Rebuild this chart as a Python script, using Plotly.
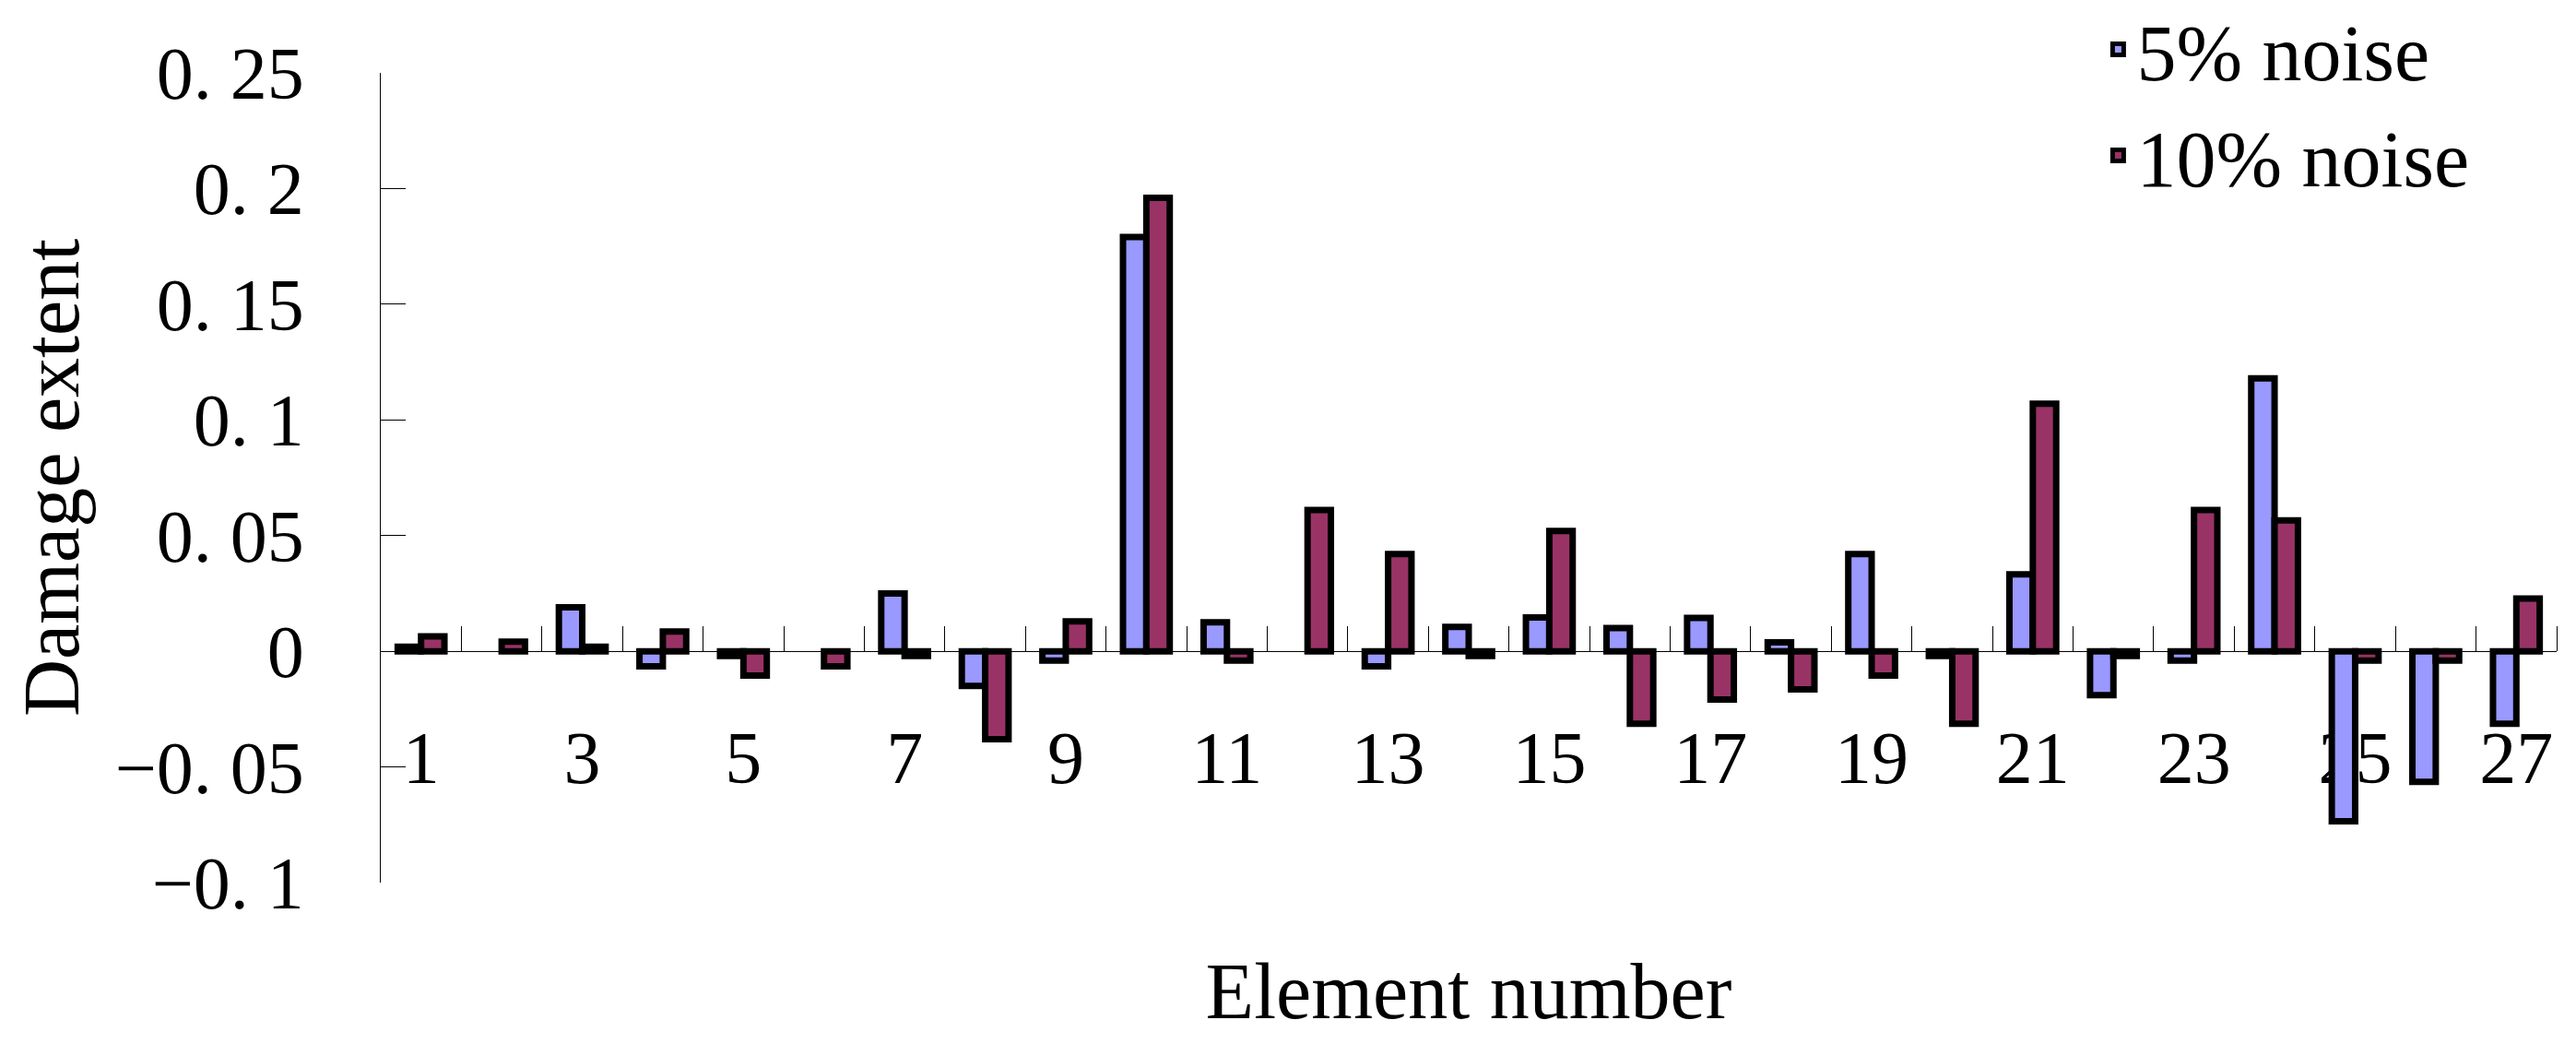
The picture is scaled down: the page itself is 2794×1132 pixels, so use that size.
import plotly.graph_objects as go

# ---- data ----
elements = [1, 2, 3, 4, 5, 6, 7, 8, 9, 10, 11, 12, 13, 14,
            15, 16, 17, 18, 19, 20, 21, 22, 23, 24, 25, 26, 27]

noise_5 = [0.002, None, 0.019, -0.0065, -0.002, None, 0.025, -0.015, -0.004,
           0.179, 0.0125, None, -0.0065, 0.0105, 0.0146, 0.010, 0.0144,
           0.0038, 0.042, -0.002, 0.0332, -0.019, -0.004, 0.118, -0.0735,
           -0.0564, -0.0313]

noise_10 = [0.0064, 0.0041, 0.002, 0.0085, -0.0105, -0.0065, -0.002, -0.038,
            0.0129, 0.196, -0.004, 0.061, 0.042, -0.002, 0.052, -0.0313,
            -0.0209, -0.0165, -0.0105, -0.0313, 0.107, -0.002, 0.061, 0.0566,
            -0.004, -0.004, 0.0228]

series_names = ["5% noise", "10% noise"]

x_label_vals = [1, 3, 5, 7, 9, 11, 13, 15, 17, 19, 21, 23, 25, 27]
x_label_text = ["1", "3", "5", "7", "9", "11", "13", "15", "17", "19",
                "21", "23", "25", "27"]
x_boundaries = [1.5, 2.5, 3.5, 4.5, 5.5, 6.5, 7.5, 8.5, 9.5, 10.5, 11.5,
                12.5, 13.5, 14.5, 15.5, 16.5, 17.5, 18.5, 19.5, 20.5, 21.5,
                22.5, 23.5, 24.5, 25.5, 26.5, 27.5]

y_tick_vals = [-0.1, -0.05, 0, 0.05, 0.1, 0.15, 0.2, 0.25]
y_tick_text = ["\u22120. 1", "\u22120. 05", "0", "0. 05", "0. 1", "0. 15",
               "0. 2", "0. 25"]

# ---- styling ----
FONT = "Liberation Serif"
FS_TICK = 80
FS_TITLE = 86
Y_MIN, Y_MAX = -0.1, 0.25
zero_pos = (0 - Y_MIN) / (Y_MAX - Y_MIN)

fig = go.Figure()
fig.add_trace(go.Bar(
    x=elements, y=noise_5, name=series_names[0],
    marker=dict(color="#9999FF", line=dict(color="black", width=7)),
))
fig.add_trace(go.Bar(
    x=elements, y=noise_10, name=series_names[1],
    marker=dict(color="#993366", line=dict(color="black", width=7)),
))

fig.update_layout(
    width=2794, height=1132,
    paper_bgcolor="white", plot_bgcolor="white",
    margin=dict(l=405, r=29, t=71, b=183, pad=0, autoexpand=False),
    barmode="group", bargap=0.42, bargroupgap=0,
    font=dict(family=FONT, size=FS_TICK, color="black"),
    showlegend=True,
    legend=dict(
        x=0.79, y=1.10, xanchor="left", yanchor="top",
        font=dict(family=FONT, size=FS_TITLE, color="black"),
        bgcolor="rgba(0,0,0,0)", borderwidth=0,
    ),
    xaxis=dict(
        range=[0.5, 27.5], showticklabels=False, ticks="",
        showline=False, showgrid=False, zeroline=False, automargin=False,
        title=dict(text="Element number", standoff=86,
                   font=dict(family=FONT, size=FS_TITLE, color="black")),
    ),
    xaxis2=dict(
        overlaying="x", anchor="free", position=zero_pos, automargin=False,
        range=[0.5, 27.5], showline=False, showgrid=False, zeroline=False,
        tickmode="array", tickvals=x_label_vals, ticktext=x_label_text,
        ticks="", ticklabelstandoff=62,
        tickfont=dict(family=FONT, size=FS_TICK, color="black"),
        minor=dict(tickmode="array", tickvals=x_boundaries, ticks="inside",
                   ticklen=27, tickwidth=1.3, tickcolor="black", showgrid=False),
        layer="below traces",
    ),
    yaxis=dict(
        range=[Y_MIN, Y_MAX], tickmode="array", tickvals=y_tick_vals,
        ticktext=y_tick_text, ticks="inside", ticklen=27, tickwidth=1.3,
        tickcolor="black", showline=True, linecolor="black", linewidth=1.3,
        showgrid=False, zeroline=True, zerolinecolor="black",
        zerolinewidth=1.3, ticklabelstandoff=66, automargin=False,
        tickfont=dict(family=FONT, size=FS_TICK, color="black"),
        title=dict(text="Damage extent", standoff=30,
                   font=dict(family=FONT, size=FS_TITLE, color="black")),
    ),
)

# invisible helper so xaxis2 is rendered
fig.add_trace(go.Scatter(x=[None], y=[None], xaxis="x2", yaxis="y",
                         showlegend=False, hoverinfo="skip"))

fig.write_html("out.html")
